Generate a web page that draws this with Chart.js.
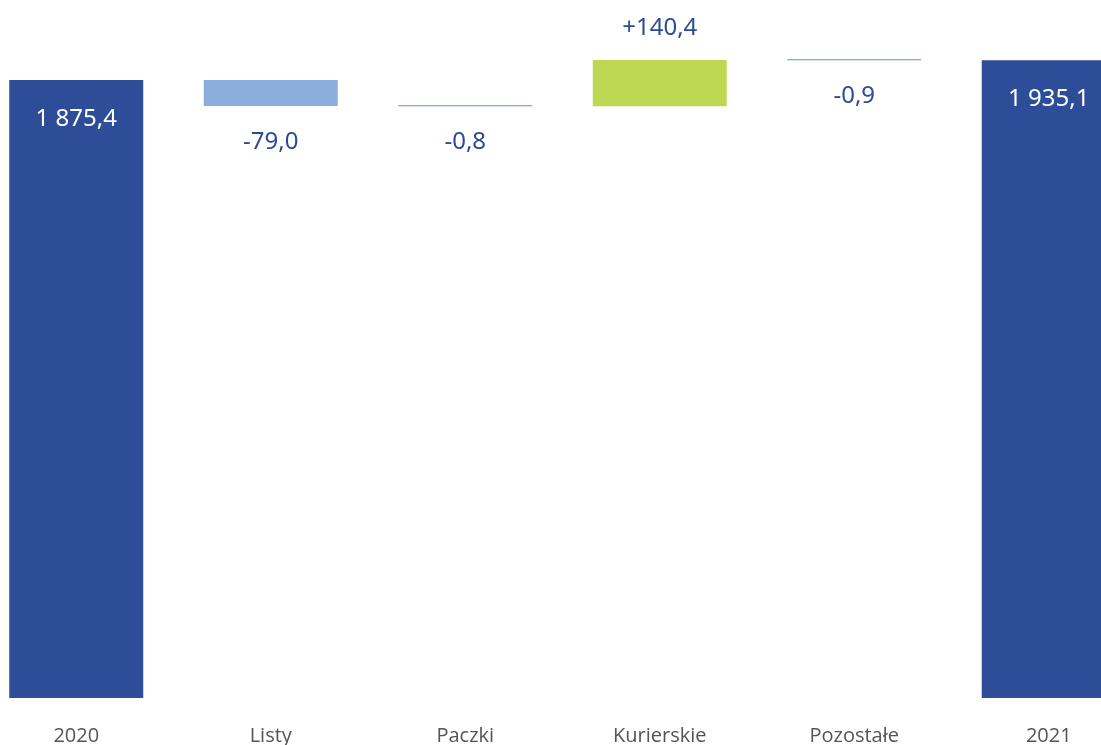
<!DOCTYPE html>
<html>
<head>
<meta charset="utf-8">
<script src="https://cdn.jsdelivr.net/npm/chart.js@4"></script>
<style>
  html, body { margin: 0; padding: 0; background: #fff; overflow: hidden; }
  #wrap { position: absolute; left: -21px; top: 0; width: 1167px; height: 745px; }
</style>
</head>
<body>
<div id="wrap"><canvas id="myChart"></canvas></div>
<script>
// dane (mln zł)
const kategorie = ["2020", "Listy", "Paczki", "Kurierskie", "Pozostałe", "2021"];
const wartosci = [1875.4, -79.0, -0.8, 140.4, -0.9, 1935.1];
const rodzaj = ["suma", "zmiana", "zmiana", "zmiana", "zmiana", "suma"];

// kolory
const kolorSuma = "#2E4D98";
const kolorSpadek = "#8BAFDC";
const kolorLinia = "#5F8FD6";
const kolorWzrost = "#BDD752";
const kolorTekst = "#2E4A96";

// przedzialy dla wykresu kaskadowego
let biezacy = 0;
const przedzialy = [];
wartosci.forEach((v, i) => {
  if (rodzaj[i] === "suma") {
    przedzialy.push([0, v]);
    biezacy = v;
  } else {
    przedzialy.push([biezacy, biezacy + v]);
    biezacy += v;
  }
});

const kolory = wartosci.map((v, i) => {
  if (rodzaj[i] === "suma") return kolorSuma;
  if (Math.abs(v) < 2) return kolorLinia;
  return v < 0 ? kolorSpadek : kolorWzrost;
});

function formatuj(v, i) {
  let s = Math.abs(v).toFixed(1).replace(".", ",");
  let [c, d] = s.split(",");
  c = c.replace(/\B(?=(\d{3})+(?!\d))/g, " ");
  s = c + "," + d;
  if (rodzaj[i] === "suma") return s;
  return (v < 0 ? "-" : "+") + s;
}

// etykiety wartosci
const etykiety = {
  id: "etykiety",
  afterDatasetsDraw(chart) {
    const ctx = chart.ctx;
    const meta = chart.getDatasetMeta(0);
    ctx.save();
    ctx.font = "24px 'Noto Sans'";
    ctx.textAlign = "center";
    ctx.textBaseline = "middle";
    meta.data.forEach((el, i) => {
      const v = wartosci[i];
      const gora = Math.min(el.y, el.base);
      const dol = Math.max(el.y, el.base);
      let y;
      if (rodzaj[i] === "suma") {
        ctx.fillStyle = "#ffffff";
        y = gora + 39;
      } else if (v < 0) {
        ctx.fillStyle = kolorTekst;
        y = dol + 36;
      } else {
        ctx.fillStyle = kolorTekst;
        y = gora - 32;
      }
      ctx.fillText(formatuj(v, i), el.x, y);
    });
    ctx.restore();
  },
};

const config = {
  type: "bar",
  data: {
    labels: kategorie,
    datasets: [
      {
        data: przedzialy,
        backgroundColor: kolory,
        borderWidth: 0,
        minBarLength: 1,
        categoryPercentage: 1,
        barPercentage: 0.689,
      },
    ],
  },
  options: {
    responsive: true,
    maintainAspectRatio: false,
    animation: false,
    layout: { padding: 0 },
    plugins: {
      legend: { display: false },
      tooltip: { enabled: false },
    },
    scales: {
      x: {
        grid: { display: false, drawTicks: false },
        border: { display: false },
        ticks: {
          color: "#555555",
          font: { family: "'Open Sans'", size: 20 },
          padding: 26,
        },
        afterFit(scale) {
          scale.height = 47;
        },
      },
      y: {
        display: false,
        min: 0,
        max: 2118,
      },
    },
  },
  plugins: [etykiety],
};

const ctx = document.getElementById("myChart").getContext("2d");
const myChart = new Chart(ctx, config);
</script>
</body>
</html>
